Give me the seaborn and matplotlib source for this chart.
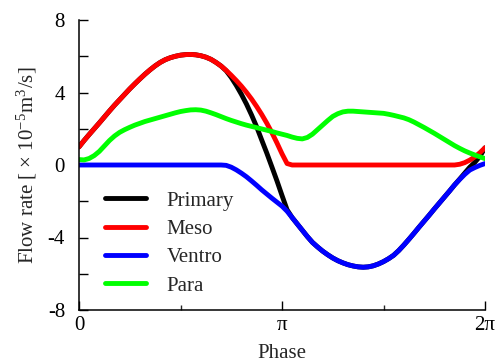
import numpy as np
import pandas as pd
import matplotlib
matplotlib.use("Agg")
import matplotlib.pyplot as plt
import seaborn as sns

# phase in units of pi (0 .. 2), sampled every 0.025
phase = np.linspace(0, 2, 81)

meso = ([1.00, 1.35, 1.68, 2.00, 2.32, 2.65, 2.98, 3.30, 3.60, 3.90, 4.20, 4.48, 4.75, 5.01,
         5.25, 5.47, 5.66, 5.81, 5.92, 6.00, 6.06, 6.09, 6.10, 6.08, 6.03, 5.95, 5.83, 5.66,
         5.46,
         5.22, 4.95, 4.66, 4.35, 4.01, 3.64, 3.23, 2.79, 2.31, 1.79, 1.22, 0.62, 0.08]
        + [0] * 33
        + [0.04, 0.13, 0.27, 0.45, 0.68, 0.95])

ventro = [0] * 29 + [-0.02, -0.12, -0.27, -0.45, -0.65, -0.88, -1.12, -1.37, -1.60, -1.83,
                     -2.05, -2.27, -2.55, -2.90, -3.25, -3.60, -3.95, -4.27, -4.52, -4.75,
                     -4.95, -5.13, -5.28, -5.40, -5.50, -5.57, -5.62, -5.64, -5.62, -5.56,
                     -5.46, -5.33, -5.17, -4.98, -4.72, -4.42, -4.10, -3.77, -3.43, -3.10,
                     -2.77, -2.43, -2.10, -1.77, -1.44, -1.10, -0.80, -0.52, -0.28, -0.14,
                     -0.02, 0.08]

primary = [1.00, 1.35, 1.68, 2.00, 2.32, 2.65, 2.98, 3.30, 3.60, 3.90, 4.20, 4.48, 4.75, 5.01,
           5.25, 5.47, 5.66, 5.81, 5.92, 6.00, 6.06, 6.09, 6.10, 6.08, 6.03, 5.95, 5.83, 5.66,
           5.46,
           5.20, 4.83, 4.39, 3.90, 3.36, 2.76, 2.11, 1.38, 0.66, -0.10, -0.87, -1.68, -2.47,
           -2.90, -3.25, -3.60, -3.95, -4.27, -4.52, -4.75, -4.95, -5.13, -5.28, -5.40,
           -5.50, -5.57, -5.62, -5.64, -5.62, -5.56, -5.46, -5.33, -5.17, -4.98, -4.72,
           -4.42, -4.10, -3.77, -3.43, -3.10, -2.77, -2.43, -2.10, -1.77, -1.44, -1.10,
           -0.78, -0.45, -0.12, 0.15, 0.48, 0.95]

para = [0.30, 0.28, 0.36, 0.52, 0.75, 1.05, 1.35, 1.60, 1.80, 1.95, 2.08, 2.20, 2.30, 2.40,
        2.48, 2.56, 2.64, 2.72, 2.80, 2.88, 2.95, 3.00, 3.04, 3.05, 3.03, 2.97, 2.88, 2.78,
        2.67, 2.56, 2.46, 2.37, 2.28, 2.20, 2.13, 2.06, 1.99, 1.92, 1.85, 1.77, 1.70, 1.63,
        1.54, 1.47, 1.44, 1.52, 1.70, 1.95, 2.20, 2.45, 2.68, 2.83, 2.93, 2.97, 2.97, 2.95,
        2.93, 2.91, 2.89, 2.87, 2.85, 2.80, 2.74, 2.67, 2.60, 2.50, 2.37, 2.22, 2.07, 1.91,
        1.75, 1.58, 1.41, 1.24, 1.07, 0.92, 0.78, 0.66, 0.55, 0.45, 0.35]

series_names = ["Primary", "Meso", "Ventro", "Para"]
colors = ["#000000", "#ff0000", "#0000ff", "#00ff00"]
x_tick_pos = [0, 1, 2]
x_tick_labels = ["0", "π", "2π"]
y_tick_pos = [-8, -6, -4, -2, 0, 2, 4, 6, 8]
y_tick_labels = ["-8", "", "-4", "", "0", "", "4", "", "8"]

df = pd.DataFrame({
    "phase": np.tile(phase, 4),
    "flow": np.concatenate([primary, meso, ventro, para]),
    "series": np.repeat(series_names, len(phase)),
})

sns.set_style("ticks")
plt.rcParams["font.family"] = ["Liberation Serif", "DejaVu Serif"]
plt.rcParams["mathtext.fontset"] = "stix"
plt.rcParams["lines.solid_joinstyle"] = "round"

fig = plt.figure(figsize=(4.97, 3.63), dpi=100)
ax = fig.add_axes([79 / 497, 1 - 310 / 363, 406 / 497, 290 / 363])

sns.lineplot(data=df, x="phase", y="flow", hue="series", hue_order=series_names,
             palette=colors, linewidth=3.5, ax=ax, sort=False)

ax.set_xlim(0, 2)
ax.set_ylim(-8, 8)
ax.set_xticks(x_tick_pos)
ax.set_xticklabels(x_tick_labels)
ax.set_xticks([0.5, 1.5], minor=True)
ax.set_yticks(y_tick_pos)
ax.set_yticklabels(y_tick_labels)

ax.tick_params(axis="both", which="major", direction="in", length=6.5, width=1.0,
               labelsize=15, color="black", labelcolor="black")
ax.tick_params(axis="x", which="major", pad=4)
ax.tick_params(axis="y", which="major", pad=10)
ax.tick_params(axis="x", which="minor", direction="in", length=3.5, width=1.0)

for s in ["top", "right"]:
    ax.spines[s].set_visible(False)
for s in ["left", "bottom"]:
    ax.spines[s].set_linewidth(1.1)
    ax.spines[s].set_color("black")

ax.set_xlabel("Phase", fontsize=15, labelpad=7)
ax.set_ylabel("Flow rate [ × 10$^{\\mathregular{-5}}$m$^{\\mathregular{3}}$/s]",
              fontsize=15, labelpad=6)

leg = ax.legend(loc="upper left", bbox_to_anchor=(0.064, 0.41), frameon=False,
                fontsize=15, handlelength=1.95, handletextpad=1.0, labelspacing=0.42,
                borderpad=0, borderaxespad=0)
for line in leg.get_lines():
    line.set_linewidth(3.5)

fig.savefig("out.png", dpi=100)
